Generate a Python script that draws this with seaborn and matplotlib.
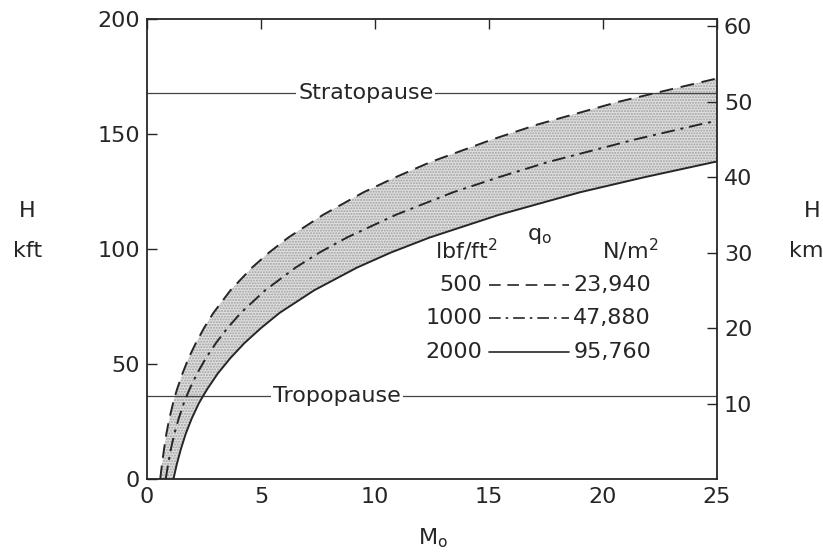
import matplotlib
matplotlib.use("Agg")
import matplotlib.pyplot as plt
import seaborn as sns
import pandas as pd
import numpy as np

# ---- data (altitude in kft vs flight Mach number) ----
H_kft = [0, 6.56, 13.12, 19.69, 26.25, 32.81, 36.09, 39.37, 45.93, 52.49, 59.06,
         65.62, 72.18, 82.02, 91.86, 98.43, 104.99, 114.83, 124.67, 131.23,
         137.80, 147.64, 154.20, 164.04, 170.60, 173.88]
M_500 = [0.58, 0.66, 0.75, 0.85, 0.98, 1.14, 1.23, 1.33, 1.56, 1.82, 2.14,
         2.50, 2.91, 3.66, 4.60, 5.35, 6.20, 7.72, 9.50, 10.91,
         12.44, 15.15, 17.16, 20.70, 23.49, 24.89]
M_1000 = [0.82, 0.93, 1.05, 1.20, 1.39, 1.61, 1.74, 1.88, 2.20, 2.58, 3.02,
          3.53, 4.11, 5.18, 6.51, 7.56, 8.77, 10.91, 13.43, 15.44,
          17.59, 21.42, 24.27]
M_2000 = [1.16, 1.31, 1.49, 1.70, 1.96, 2.27, 2.46, 2.66, 3.11, 3.65, 4.27,
          5.00, 5.81, 7.33, 9.20, 10.69, 12.40, 15.43, 19.00, 21.83, 24.88]
# value at the right edge (M = 25)
M_edge = 25.0
H_edge = {"500": 174.2, "1000": 155.7, "2000": 138.0}

q_lbf = ["500", "1000", "2000"]
q_nm = ["23,940", "47,880", "95,760"]

stratopause_kft = 168
tropopause_kft = 36

x_ticks = [0, 5, 10, 15, 20, 25]
y_ticks = [0, 50, 100, 150, 200]
km_ticks = [10, 20, 30, 40, 50, 60]

# ---- build tidy frame ----
rows = []
for q, Ms in zip(q_lbf, [M_500, M_1000, M_2000]):
    Hs = H_kft[:len(Ms)]
    for m, h in zip(Ms, Hs):
        rows.append({"q": q, "M": m, "H": h})
    rows.append({"q": q, "M": M_edge, "H": H_edge[q]})
df = pd.DataFrame(rows)

sns.set_theme(style="white")
plt.rcParams["font.family"] = ["DejaVu Sans"]
ink = "#262626"
FS = 16

fig = plt.figure(figsize=(8.23, 5.57), dpi=100)
ax = fig.add_axes([0.1786, 0.140, 0.6926, 0.826])

# shaded band between 500 and 2000 curves
d500 = df[df.q == "500"]
d2000 = df[df.q == "2000"]
poly_x = list(d500.M) + list(d2000.M)[::-1]
poly_y = list(d500.H) + list(d2000.H)[::-1]
ax.fill(poly_x, poly_y, facecolor="#e0e0e0", edgecolor="#a0a0a0",
        hatch="......", linewidth=0, zorder=1)

styles = {"500": (0, (7, 4)), "1000": (0, (7, 3, 1.5, 3)), "2000": "-"}
for q in q_lbf:
    sub = df[df.q == q]
    sns.lineplot(data=sub, x="M", y="H", sort=False, ax=ax, color=ink,
                 linewidth=1.4, linestyle=styles[q], zorder=3, estimator=None)

# stratopause / tropopause
for h, lab, xm in [(stratopause_kft, "Stratopause", 9.6), (tropopause_kft, "Tropopause", 8.35)]:
    ax.axhline(h, color="#444444", linewidth=0.9, zorder=2)
    ax.text(xm, h, lab, ha="center", va="center", fontsize=FS, color=ink,
            zorder=4, bbox=dict(facecolor="white", edgecolor="none", pad=1.5))

ax.set_xlim(0, 25)
ax.set_ylim(0, 200)
ax.set_xticks(x_ticks)
ax.set_yticks(y_ticks)
ax.set_xticklabels([str(v) for v in x_ticks])
ax.set_yticklabels([str(v) for v in y_ticks])
ax.tick_params(axis="both", direction="in", length=7, width=1, colors=ink,
               labelsize=FS, labelcolor=ink, top=True, pad=5)
ax.tick_params(axis="x", pad=6)
ax.set_xlabel("")
ax.set_ylabel("")
for s in ax.spines.values():
    s.set_color(ink)
    s.set_linewidth(1.3)
ax.grid(False)

# right axis in km
ax2 = ax.twinx()
ax2.set_ylim(0, 200 / 3.28084)
ax2.set_yticks(km_ticks)
ax2.set_yticklabels([str(v) for v in km_ticks])
ax2.tick_params(axis="y", direction="in", length=7, width=1, colors=ink,
                labelsize=FS, labelcolor=ink, pad=5)
ax2.grid(False)
for s in ax2.spines.values():
    s.set_visible(False)

# axis titles
fig.text(27 / 823, 1 - 211 / 557, "H", ha="center", va="center", fontsize=FS, color=ink)
fig.text(28 / 823, 1 - 251 / 557, "kft", ha="center", va="center", fontsize=FS, color=ink)
fig.text(812 / 823, 1 - 211 / 557, "H", ha="center", va="center", fontsize=FS, color=ink)
fig.text(806 / 823, 1 - 251 / 557, "km", ha="center", va="center", fontsize=FS, color=ink)
fig.text(433 / 823, 1 - 538 / 557, r"M$_\mathregular{o}$", ha="center", va="center",
         fontsize=FS, color=ink)

# legend block (q_o)
ax.text(17.2, 105.5, r"q$_\mathregular{o}$", ha="center", va="center", fontsize=FS, color=ink)
ax.text(14.0, 99.5, r"lbf/ft$^\mathregular{2}$", ha="center", va="center", fontsize=FS, color=ink)
ax.text(21.2, 99.5, r"N/m$^\mathregular{2}$", ha="center", va="center", fontsize=FS, color=ink)
rows_y = [84.3, 70.0, 55.2]
for q, qn, yy in zip(q_lbf, q_nm, rows_y):
    ax.text(14.7, yy, q, ha="right", va="center", fontsize=FS, color=ink)
    ax.plot([15.0, 18.5], [yy, yy], color=ink, linewidth=1.2, linestyle=styles[q])
    ax.text(18.7, yy, qn, ha="left", va="center", fontsize=FS, color=ink)

fig.savefig("out.png", dpi=100, facecolor="white")
